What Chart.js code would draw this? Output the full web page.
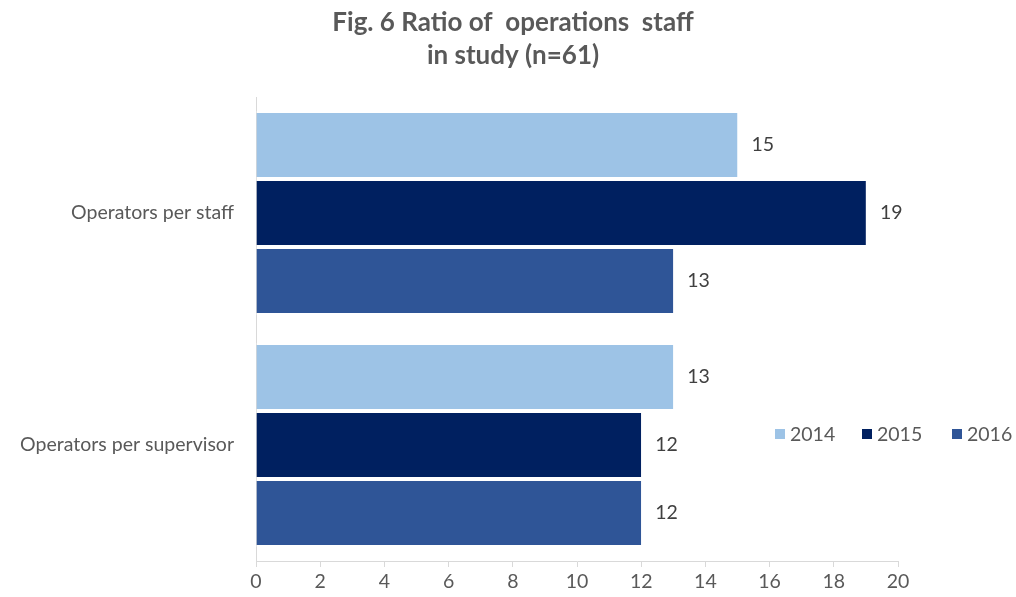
<!DOCTYPE html>
<html>
<head>
<meta charset="utf-8">
<script src="https://cdn.jsdelivr.net/npm/chart.js@4"></script>
<style>
  html, body { margin:0; padding:0; background:#fff; }
  #wrap { width:1016px; height:597px; }
</style>
</head>
<body>
<div id="wrap"><canvas id="grafico"></canvas></div>
<script>
const categorias = ['Operators per staff', 'Operators per supervisor'];
const anos = ['2014', '2015', '2016'];
const valores2014 = [15, 13];
const valores2015 = [19, 12];
const valores2016 = [13, 12];
const ticksX = [0, 2, 4, 6, 8, 10, 12, 14, 16, 18, 20];
const cores = ['#9DC3E6', '#002060', '#2F5597'];

const fonte = 'Lato, "Open Sans", sans-serif';
const tamTexto = 19.5;

// rotulos de valor ao lado de cada barra
const rotulos = {
    id: 'rotulos',
    afterDatasetsDraw(chart) {
        const ctx = chart.ctx;
        ctx.save();
        ctx.font = tamTexto + 'px ' + fonte;
        ctx.fillStyle = '#404040';
        ctx.textBaseline = 'middle';
        chart.data.datasets.forEach((ds, i) => {
            chart.getDatasetMeta(i).data.forEach((bar, j) => {
                ctx.fillText(ds.data[j], bar.x + 14, bar.y);
            });
        });
        ctx.restore();
    }
};

// legenda desenhada dentro da area do grafico
const legenda = {
    id: 'legenda',
    afterDraw(chart) {
        const ctx = chart.ctx;
        ctx.save();
        ctx.font = tamTexto + 'px ' + fonte;
        ctx.textBaseline = 'middle';
        const posX = [775, 862, 952];
        const y = 434;
        chart.data.datasets.forEach((ds, i) => {
            ctx.fillStyle = ds.backgroundColor;
            ctx.fillRect(posX[i], y - 5, 10, 10);
            ctx.fillStyle = '#595959';
            ctx.fillText(ds.label, posX[i] + 15, y + 1);
        });
        ctx.restore();
    }
};

const ctx = document.getElementById('grafico').getContext('2d');
new Chart(ctx, {
    type: 'bar',
    data: {
        labels: categorias,
        datasets: [
            { label: anos[0], data: valores2014, backgroundColor: cores[0] },
            { label: anos[1], data: valores2015, backgroundColor: cores[1] },
            { label: anos[2], data: valores2016, backgroundColor: cores[2] }
        ].map(d => Object.assign(d, {
            borderColor: '#ffffff',
            borderWidth: { top: 2, bottom: 2, left: 0, right: 0 },
            borderSkipped: false,
            categoryPercentage: 0.88,
            barPercentage: 1
        }))
    },
    options: {
        indexAxis: 'y',
        responsive: true,
        maintainAspectRatio: false,
        animation: false,
        layout: { padding: { left: 10, right: 0, top: 0, bottom: 0 } },
        plugins: {
            legend: { display: false },
            tooltip: { enabled: false },
            title: {
                display: true,
                text: ['Fig. 6 Ratio of  operations  staff', 'in study (n=61)'],
                color: '#595959',
                font: { family: fonte, size: 26, weight: 'bold', lineHeight: 1.27 },
                padding: { top: 6, bottom: 25 }
            }
        },
        scales: {
            x: {
                min: 0,
                max: 20,
                afterBuildTicks: s => { s.ticks = ticksX.map(v => ({ value: v })); },
                afterFit: s => { s.height = 36; },
                grid: { drawOnChartArea: false, drawTicks: true, tickLength: 6, color: '#d9d9d9' },
                border: { display: true, color: '#d9d9d9' },
                ticks: { color: '#595959', font: { family: fonte, size: tamTexto }, padding: 3 }
            },
            y: {
                afterFit: s => { s.width = 246; },
                grid: { drawOnChartArea: false, drawTicks: false },
                border: { display: true, color: '#d9d9d9' },
                ticks: { color: '#595959', font: { family: fonte, size: tamTexto }, padding: 22 }
            },
            // eixo vazio so para reservar o espaco da direita
            reserva: {
                axis: 'y',
                type: 'category',
                position: 'right',
                afterFit: s => { s.width = 118; },
                grid: { display: false },
                border: { display: false },
                ticks: { display: false }
            }
        }
    },
    plugins: [rotulos, legenda]
});
</script>
</body>
</html>
